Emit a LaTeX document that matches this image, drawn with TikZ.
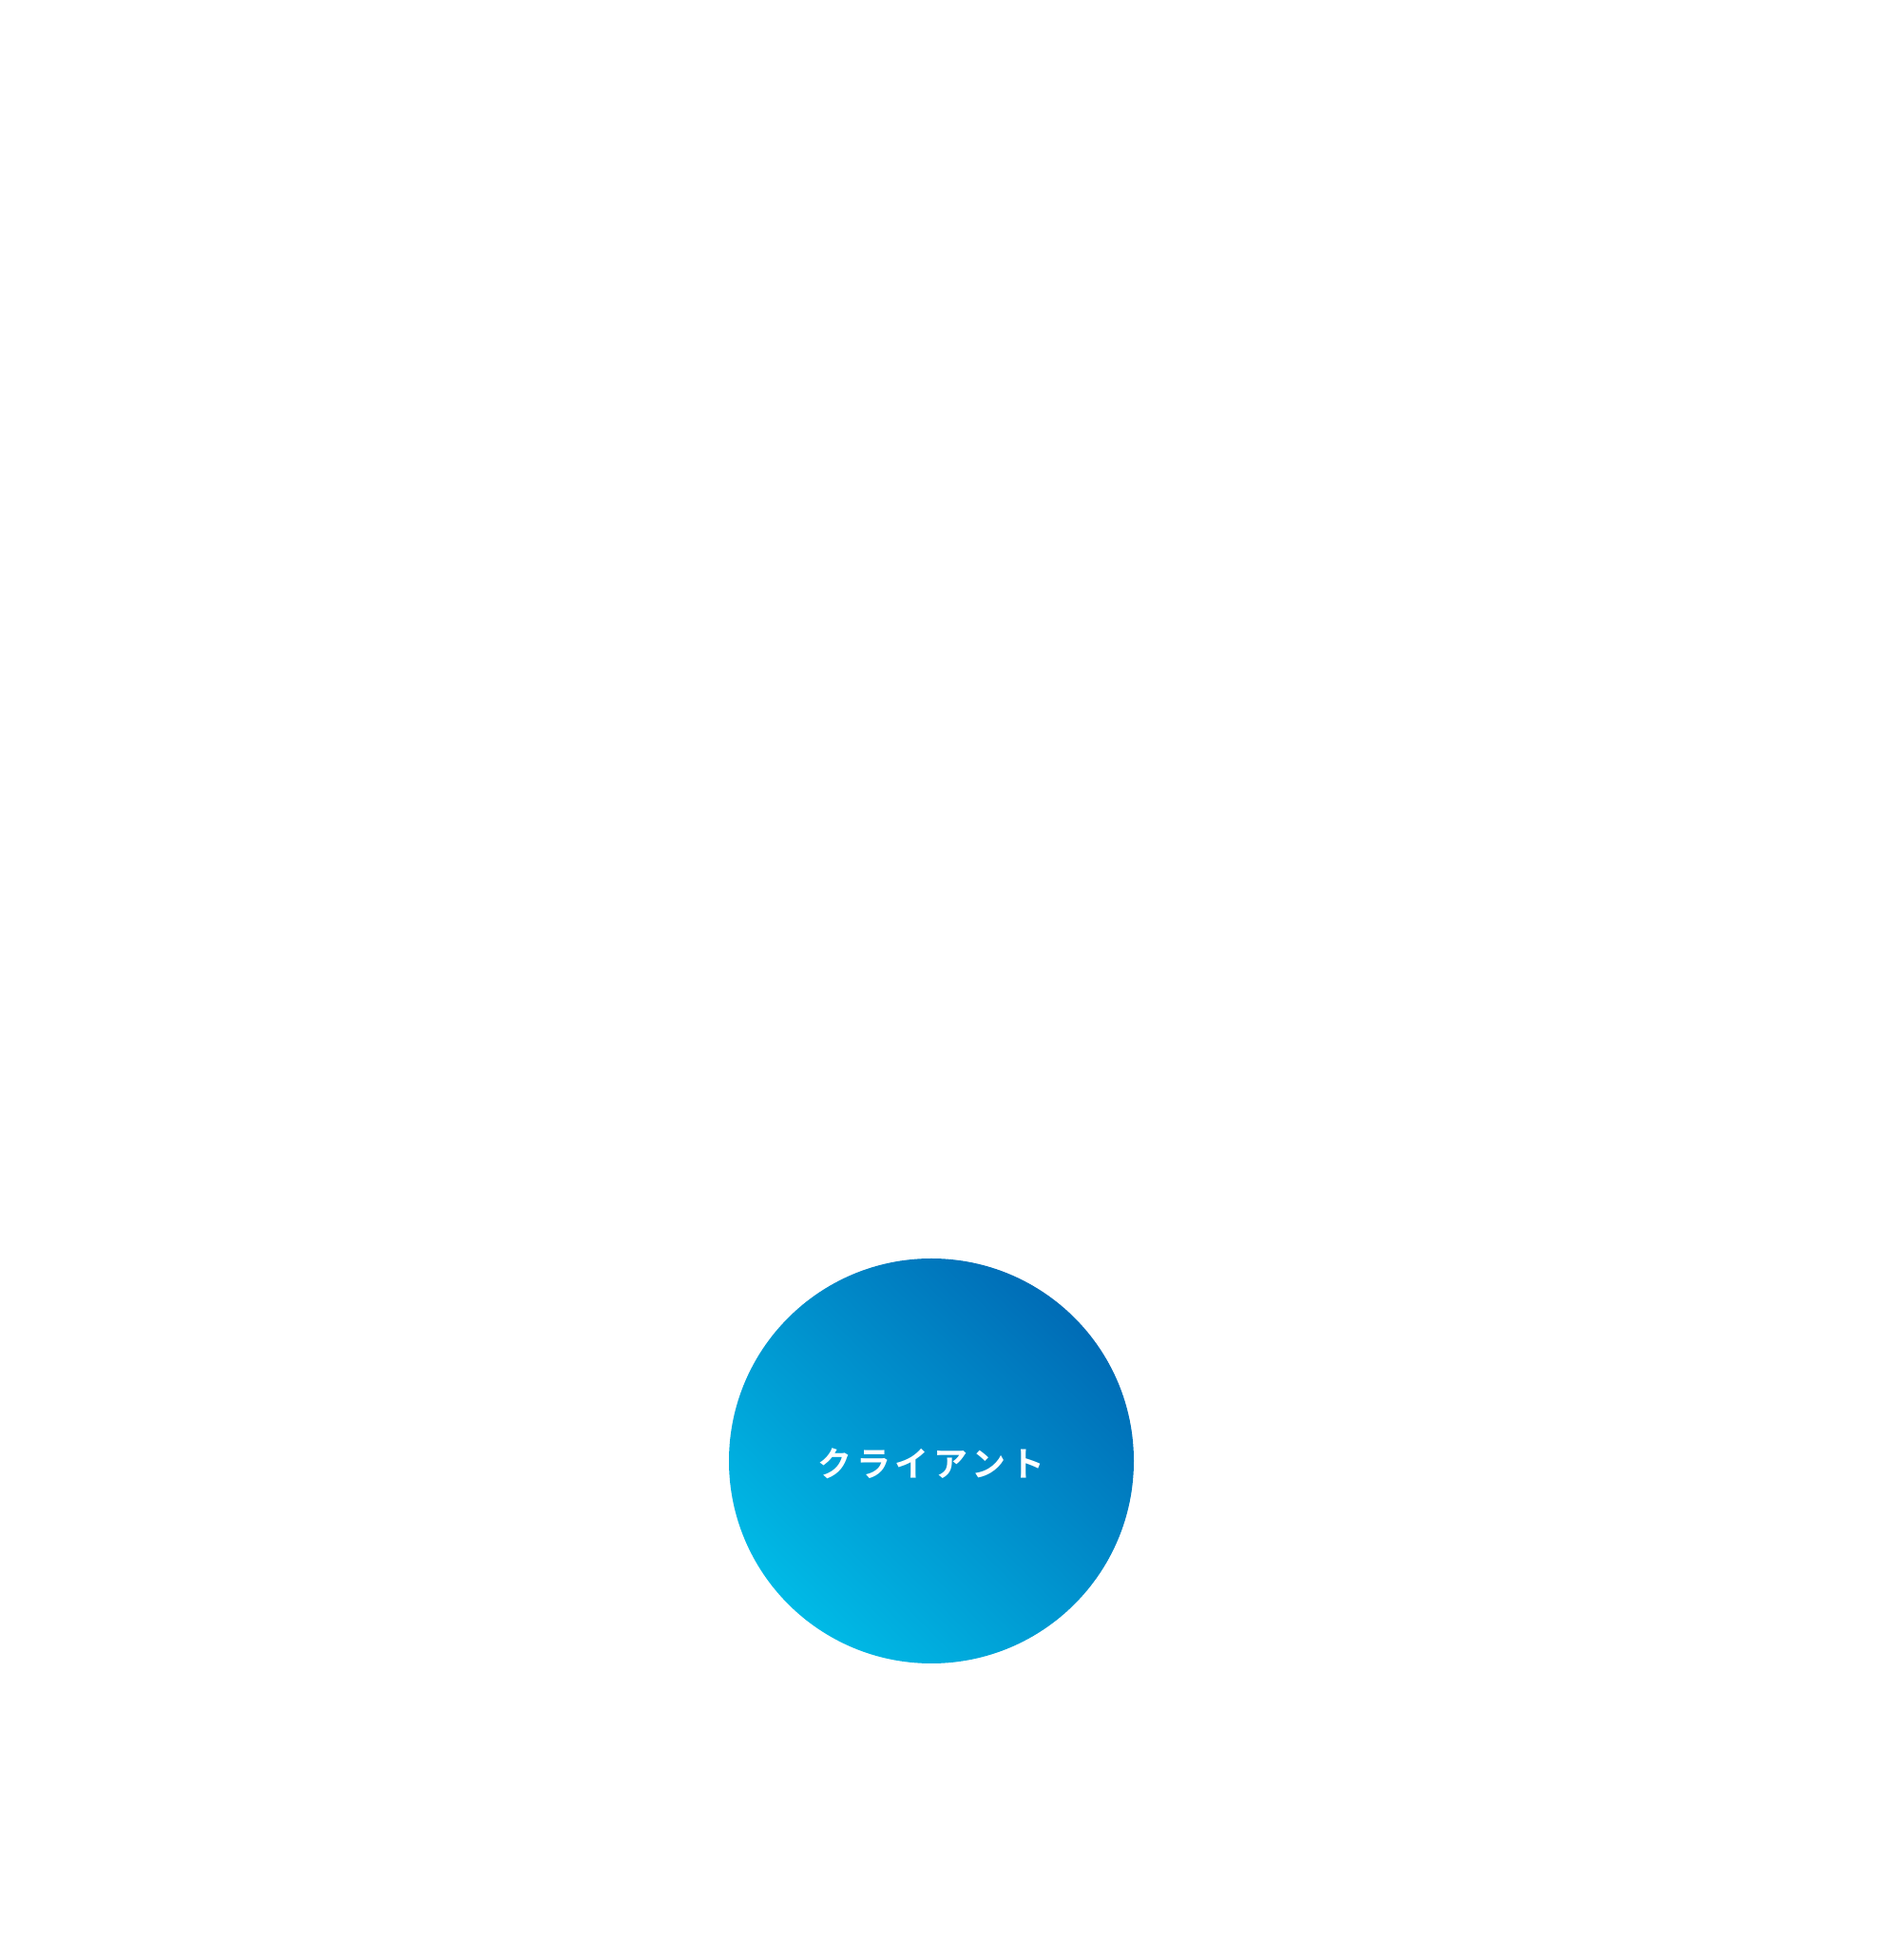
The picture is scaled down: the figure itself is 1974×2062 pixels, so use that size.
\documentclass[tikz,border=0pt]{standalone}
\usepackage{fontspec}
\newfontfamily\jpfont{Noto Sans CJK JP}[BoldFont={* Bold}]
\definecolor{cdark}{HTML}{006CB6}
\definecolor{clight}{HTML}{00BAE6}
\newcommand{\trk}{\kern4.5pt}
\begin{document}
\begin{tikzpicture}[x=1pt,y=1pt,
  clientcircle/.style={circle, minimum size=426pt, inner sep=0pt,
    top color=cdark, bottom color=clight, shading angle=-45},
  clientlabel/.style={text=white, inner sep=0pt, font=\jpfont\bfseries\fontsize{36}{40}\selectfont}]
\useasboundingbox[fill=white] (0,0) rectangle (1974,2062);
\node[clientcircle] (client) at (980,525) {};
\node[clientlabel] (clientlabel) at ([yshift=-3pt]client.center) {ク\trk ラ\trk イ\trk ア\trk ン\trk ト};
\end{tikzpicture}
\end{document}
